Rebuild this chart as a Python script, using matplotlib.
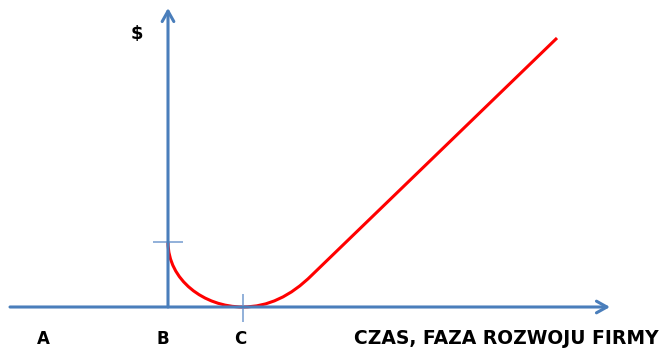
import matplotlib
matplotlib.use("Agg")
import matplotlib.pyplot as plt
from matplotlib.path import Path
from matplotlib.patches import PathPatch

# Schematic coordinates (pixel-like units, y grows downward)
axis_origin = (168, 307)
x_axis_end = 610
y_axis_end = 8
y_tick = 242          # level where curve starts on the $ axis
x_tick = 243          # point C (curve minimum)
# curve control points: quarter bend, bottom, blend, and straight line end
curve_pts = [(168, 242), (168, 280), (204, 307), (243, 307),
             (280, 307), (312, 275), (557, 38)]
curve_codes = [Path.MOVETO, Path.CURVE4, Path.CURVE4, Path.CURVE4,
               Path.CURVE3, Path.CURVE3, Path.LINETO]
point_labels = ["A", "B", "C"]
point_label_x = [43, 163, 240]
axis_title = "CZAS, FAZA ROZWOJU FIRMY"
y_title = "$"

BLUE = "#4a7ebb"
TICK = "#7fa3d3"
RED = "#ff0000"

fig = plt.figure(figsize=(6.64, 3.51), dpi=100)
ax = fig.add_axes([0, 0, 1, 1])
ax.set_xlim(0, 664)
ax.set_ylim(351, 0)
ax.axis("off")

arrow = dict(arrowstyle="->,head_length=0.75,head_width=0.42",
             color=BLUE, lw=2.2, shrinkA=0, shrinkB=0)
ax.annotate("", xy=(x_axis_end, axis_origin[1]), xytext=(10, axis_origin[1]),
            arrowprops=arrow)
ax.annotate("", xy=(axis_origin[0], y_axis_end), xytext=(axis_origin[0], axis_origin[1]),
            arrowprops=arrow)

# ticks
ax.plot([153, 183], [y_tick, y_tick], color=TICK, lw=1.2, solid_capstyle="butt")
ax.plot([x_tick, x_tick], [294, 322], color=TICK, lw=1.2, solid_capstyle="butt")

# red curve
path = Path(curve_pts, curve_codes)
ax.add_patch(PathPatch(path, facecolor="none", edgecolor=RED, lw=2.2,
                       capstyle="butt", joinstyle="round"))

for lab, x in zip(point_labels, point_label_x):
    ax.text(x, 339, lab, ha="center", va="center", fontsize=12,
            fontweight="bold", color="black")
ax.text(659, 339, axis_title, ha="right", va="center", fontsize=13.5,
        fontweight="bold", color="black")
ax.text(137, 34, y_title, ha="center", va="center", fontsize=13,
        fontweight="bold", color="black")

fig.savefig("out.png", dpi=100)
